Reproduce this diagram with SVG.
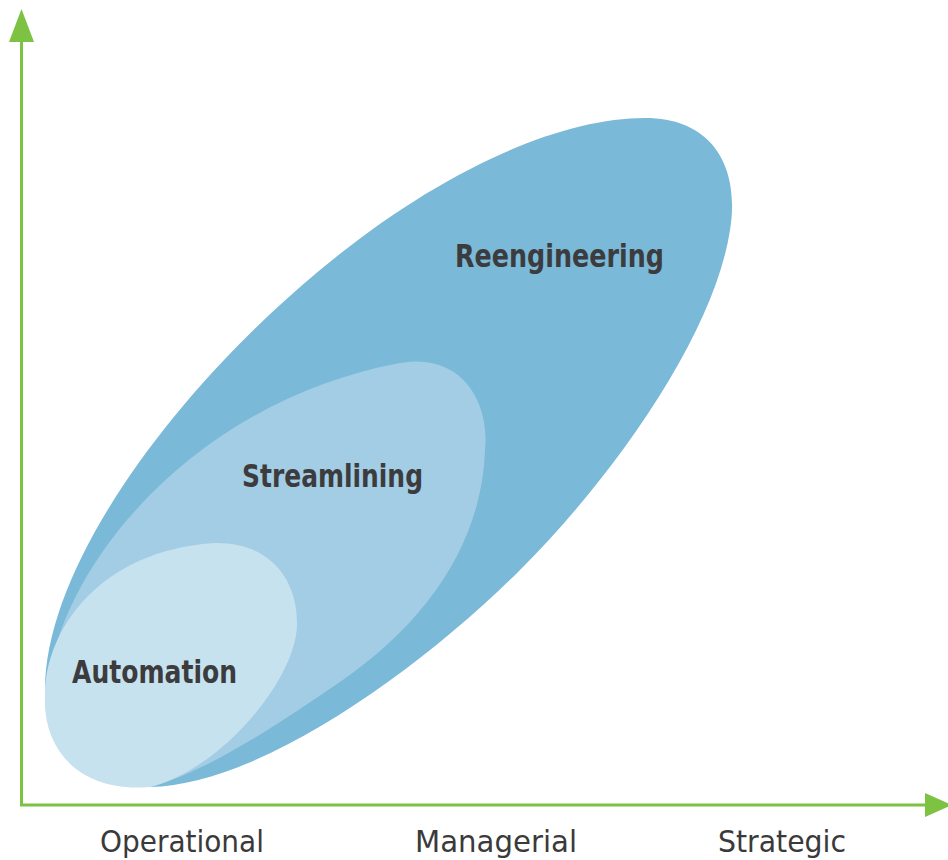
<svg xmlns="http://www.w3.org/2000/svg" width="948" height="860" viewBox="0 0 948 860">
  <style>
    .axis { stroke: #7dc243; stroke-width: 3; fill: none; }
    .head { fill: #7dc243; }
    .lbl { font-family: "Liberation Sans Narrow", "DejaVu Sans Condensed", "Liberation Sans", sans-serif; font-weight: bold; fill: #3c3c3e; font-size: 32px; }
    .ax { font-family: "Liberation Sans Narrow", "DejaVu Sans Condensed", "Liberation Sans", sans-serif; fill: #3a3a3a; font-size: 31px; }
  </style>
  <rect width="948" height="860" fill="#ffffff"/>

  <g id="reengineering">
    <path d="M 45,690 C 45,565 175,390 320,270 C 440,170 560,118 645,118 C 715,118 740,170 730,230 C 715,330 620,470 520,570 C 420,670 260,785 150,787 C 80,788 45,750 45,690 Z" fill="#7bb9d8"/>
    <text class="lbl" x="455" y="267" textLength="209" lengthAdjust="spacingAndGlyphs">Reengineering</text>
  </g>

  <g id="streamlining">
    <path d="M 47,690 C 60,560 200,400 400,363 C 460,352 490,400 485,450 C 482,540 430,620 340,682 C 270,730 205,772 150,787 C 80,785 45,750 47,690 Z" fill="#a2cde4"/>
    <text class="lbl" x="242" y="487" textLength="181" lengthAdjust="spacingAndGlyphs">Streamlining</text>
  </g>

  <g id="automation">
    <path d="M 45,695 C 45,630 100,550 215,543 C 270,542 298,580 297,625 C 296,680 220,770 150,787 C 80,793 42,750 45,695 Z" fill="#c7e2ef"/>
    <text class="lbl" x="72" y="683" textLength="165" lengthAdjust="spacingAndGlyphs">Automation</text>
  </g>

  <g id="connectors">
    <line class="axis" x1="21.5" y1="40" x2="21.5" y2="806"/>
    <polygon class="head" points="21.5,9 9,42 34,42"/>
    <line class="axis" x1="20" y1="805" x2="927" y2="805"/>
    <polygon class="head" points="925,793 952,805 925,817"/>
  </g>

  <g id="axis-labels">
    <text class="ax" x="100" y="852" textLength="164" lengthAdjust="spacingAndGlyphs">Operational</text>
    <text class="ax" x="415" y="852" textLength="162" lengthAdjust="spacingAndGlyphs">Managerial</text>
    <text class="ax" x="718" y="852" textLength="128" lengthAdjust="spacingAndGlyphs">Strategic</text>
  </g>
</svg>
